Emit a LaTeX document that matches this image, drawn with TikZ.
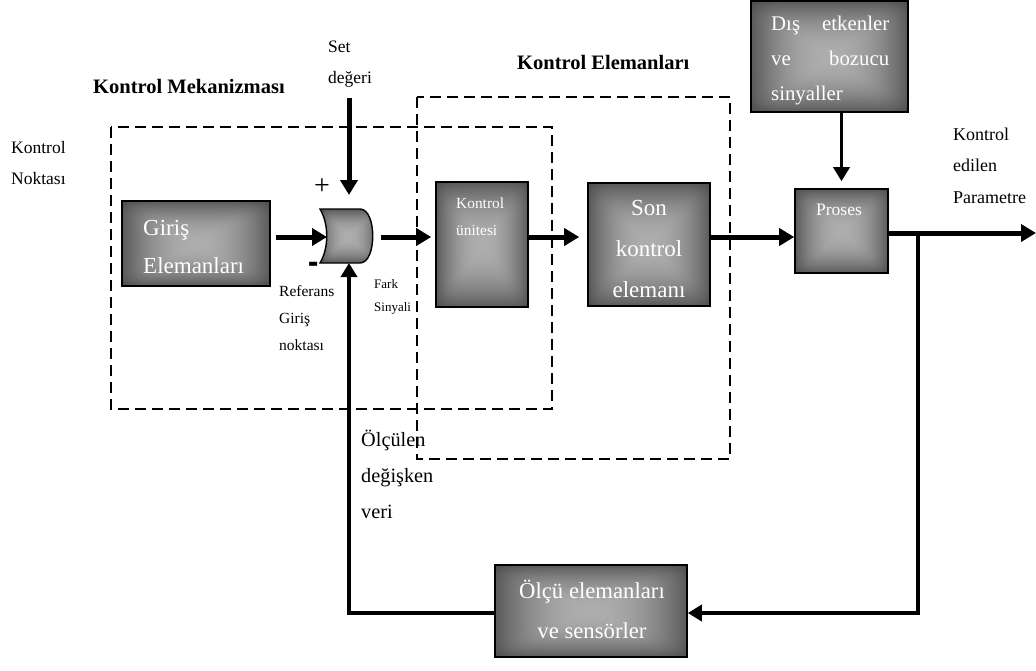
\documentclass[tikz,border=0pt]{standalone}
\usepackage{fontspec}
\setmainfont{Liberation Serif}
\usetikzlibrary{arrows.meta}

% grey box fill: dark at the rim, lighter towards the middle
% (squared rounded-square distance sqrt(sqrt(x^8+y^8)) from the centre)
\pgfdeclarefunctionalshading{boxglow}{\pgfpoint{-50bp}{-50bp}}{\pgfpoint{50bp}{50bp}}{}{%
  25 div dup mul dup mul dup mul exch 25 div dup mul dup mul dup mul add
  sqrt sqrt 0.33 mul neg 0.68 add dup dup}

% stacked lines, baseline of the first line is the node baseline
\newcommand\linesL[2]{\vtop{\baselineskip=#1\lineskiplimit=-\maxdimen\halign{##\hfil\cr#2\crcr}}}
\newcommand\linesC[2]{\vtop{\baselineskip=#1\lineskiplimit=-\maxdimen\halign{\hfil##\hfil\cr#2\crcr}}}

\tikzset{
  txt/.style={inner sep=0pt, anchor=base west},
  wtxt/.style={txt, text=white},
  box/.style={draw=black, line width=1.6pt, shade, shading=boxglow, inner sep=0pt},
  arr/.style={line width=5pt, -{Triangle[length=15pt,width=17pt]}},
  thinarr/.style={line width=3.6pt, -{Triangle[length=14pt,width=16pt]}},
  region/.style={draw=black, line width=1.8pt, dash pattern=on 11pt off 6pt},
}

\begin{document}
\begin{tikzpicture}[x=1pt,y=-1pt]
\useasboundingbox (0,0) rectangle (1036,670);

% dashed groupings
\draw[region] (111,127) rectangle (552,409);
\draw[region] (417,97) rectangle (730,459);

% blocks
\node[box, minimum width=148pt, minimum height=85pt]  (giris)  at (196,243.5) {};
\node[box, minimum width=92pt,  minimum height=125pt] (unite)  at (482,244.5) {};
\node[box, minimum width=122pt, minimum height=123pt] (son)    at (649,244.5) {};
\node[box, minimum width=93pt,  minimum height=84pt]  (proses) at (841.5,231) {};
\node[box, minimum width=157pt, minimum height=111pt] (dis)    at (829.5,56.5) {};
\node[box, minimum width=192pt, minimum height=92pt]  (olcu)   at (591,611) {};

% summing junction
\path[box, line width=1.4pt] (320,209) -- (360,209)
  .. controls (377,209) and (377,263) .. (360,263) -- (320,263)
  .. controls (329,248) and (329,224) .. (320,209) -- cycle;
\coordinate (sumL) at (327,237);
\coordinate (sumT) at (349,209);
\coordinate (sumB) at (349,263);
\coordinate (sumR) at (373,237);

% free ends and corners of the connectors
\coordinate (setTop)   at (349,98);
\coordinate (outEnd)   at (1036,233);
\coordinate (tapTop)   at (918,233);
\coordinate (tapBot)   at (918,613);
\coordinate (fbCorner) at (349,613);

% forward path
\draw[arr] ([xshift=5pt]giris.east |- sumL) -- (sumL);
\draw[arr] (setTop) -- ([yshift=14pt]sumT);
\draw[arr] ([xshift=8pt]sumR) -- ([xshift=-4pt]unite.west |- sumR);
\draw[arr] (unite.east |- sumR) -- ([xshift=-8pt]son.west |- sumR);
\draw[arr] (son.east |- sumR) -- (proses.west |- sumR);
\draw[arr] (proses.east |- outEnd) -- (outEnd);
\draw[thinarr] (dis.south -| proses.center) -- ([yshift=7pt]proses.north);

% feedback path
\draw[thinarr] (tapTop) -- (tapBot) -- (olcu.east |- tapBot);
\draw[thinarr] (olcu.west |- fbCorner) -- (fbCorner) -- (sumB);

% labels outside the blocks
\node[txt, font=\bfseries\fontsize{20.5}{24}\selectfont] (tMek) at (93,93) {Kontrol Mekanizması};
\node[txt, font=\bfseries\fontsize{20.5}{24}\selectfont] (tEle) at (517,69) {Kontrol Elemanları};
\node[txt, font=\fontsize{17.5}{21}\selectfont] (tSet) at (328,52) {\linesL{31pt}{Set\cr değeri}};
\node[txt, font=\fontsize{17.5}{21}\selectfont] (tNok) at (11,153) {\linesL{31pt}{Kontrol\cr Noktası}};
\node[txt, font=\fontsize{15.5}{19}\selectfont] (tRef) at (279,296) {\linesL{27pt}{Referans\cr Giriş\cr noktası}};
\node[txt, font=\fontsize{13}{16}\selectfont] (tFark) at (374,288) {\linesL{23.5pt}{Fark\cr Sinyali}};
\node[txt, font=\fontsize{20.3}{24}\selectfont] (tOlc) at (361,446) {\linesL{36pt}{Ölçülen\cr değişken\cr veri}};
\node[txt, font=\fontsize{18}{22}\selectfont] (tPar) at (953,140) {\linesL{31.5pt}{Kontrol\cr edilen\cr Parametre}};
\node[inner sep=0pt, anchor=base, font=\fontsize{28}{30}\selectfont] (tPlus) at (322,194) {+};
\node[inner sep=0pt, anchor=base, font=\bfseries\fontsize{28}{30}\selectfont] (tMinus) at (314,275) {\scalebox{1.1}[1.7]{-}};

% labels inside the blocks
\node[wtxt, font=\fontsize{23}{27}\selectfont] (tGir) at (143,235) {\linesL{38pt}{Giriş\cr Elemanları}};
\node[wtxt, font=\fontsize{15.4}{18}\selectfont] (tUni) at (456,208) {\linesL{27pt}{Kontrol\cr ünitesi}};
\node[wtxt, anchor=base, font=\fontsize{23}{27}\selectfont] (tSon) at (649,215) {\linesC{41pt}{Son\cr kontrol\cr elemanı}};
\node[wtxt, anchor=base, font=\fontsize{17.5}{21}\selectfont] (tPro) at (839,215) {Proses};
\node[wtxt, font=\fontsize{20.8}{25}\selectfont] (tDis) at (771,30)
  {\vtop{\baselineskip=35pt\lineskiplimit=-\maxdimen
    \hbox to 118pt{Dış\hfill etkenler}\hbox to 118pt{ve\hfill bozucu}\hbox to 118pt{sinyaller\hfill}}};
\node[wtxt, anchor=base, font=\fontsize{22.7}{27}\selectfont] (tOlcu) at (592,598) {\linesC{40pt}{Ölçü elemanları\cr ve sensörler}};
\end{tikzpicture}
\end{document}
